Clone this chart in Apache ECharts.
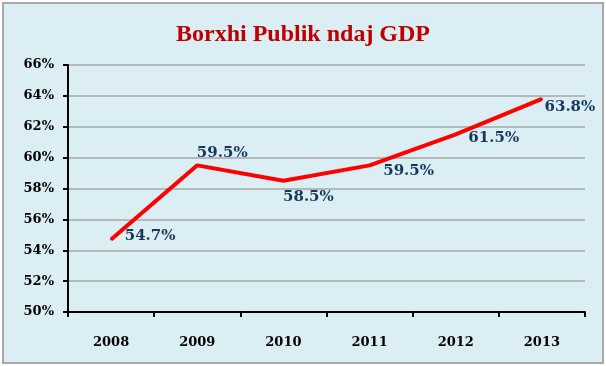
<!DOCTYPE html>
<html>
<head>
<meta charset="utf-8">
<script src="https://cdn.jsdelivr.net/npm/echarts@6/dist/echarts.min.js"></script>
<style>
  html, body { margin: 0; padding: 0; background: #ffffff; }
  #bg { position: absolute; left: 2px; top: 2px; width: 602px; height: 362px; box-sizing: border-box;
        border: 2px solid #a9a9a9; background: #DAEEF3; }
  #chart { position: absolute; left: 0; top: 0; width: 606px; height: 366px; }
</style>
</head>
<body>
<div id="bg"></div>
<div id="chart"></div>
<script>
const titleText = 'Borxhi Publik ndaj GDP';
const years = ['2008', '2009', '2010', '2011', '2012', '2013'];
const debtPct = [54.7, 59.5, 58.5, 59.5, 61.5, 63.8];
const yMin = 50, yMax = 66, yStep = 2;

// label placement (pixel offsets from each point), kept apart from the data
const labelOffsets = [[39, -3], [25, -12], [25, 16], [39, 6], [38, 4], [28, 8]];

const chart = echarts.init(document.getElementById('chart'), null, { renderer: 'canvas' });
const serif = "'DejaVu Serif', 'Liberation Serif', serif";

chart.setOption({
  backgroundColor: 'transparent',
  animation: false,
  title: {
    text: titleText,
    left: 'center',
    top: 18,
    textStyle: { fontFamily: "'Liberation Serif', serif", fontWeight: 'bold', fontSize: 24, color: '#C00000' }
  },
  grid: { left: 68, right: 21, top: 65, bottom: 54, containLabel: false },
  xAxis: {
    type: 'category',
    data: years,
    boundaryGap: true,
    axisLine: { lineStyle: { color: '#000000', width: 2 } },
    axisTick: { show: true, length: 5, lineStyle: { color: '#000000', width: 2 } },
    axisLabel: { margin: 24, fontFamily: serif, fontWeight: 'bold', fontSize: 13, color: '#000000' },
    splitLine: { show: false }
  },
  yAxis: {
    type: 'value',
    min: yMin, max: yMax, interval: yStep,
    axisLine: { show: true, lineStyle: { color: '#000000', width: 2 } },
    axisTick: { show: true, length: 5, lineStyle: { color: '#000000', width: 2 } },
    axisLabel: { margin: 14, formatter: '{value}%', fontFamily: serif, fontWeight: 'bold', fontSize: 13, color: '#000000' },
    splitLine: { show: true, lineStyle: { color: '#A6A6A6', width: 1.5 } }
  },
  series: [{
    type: 'line',
    data: debtPct.map((v, i) => ({ value: v, label: { offset: labelOffsets[i] } })),
    symbol: 'circle',
    symbolSize: 2,
    itemStyle: { color: '#FF0000' },
    lineStyle: { color: '#FF0000', width: 4 },
    label: {
      show: true,
      position: 'inside',
      formatter: p => p.value.toFixed(1) + '%',
      fontFamily: serif, fontWeight: 'bold', fontSize: 15, color: '#17375E'
    },
    z: 5
  }]
});
</script>
</body>
</html>
